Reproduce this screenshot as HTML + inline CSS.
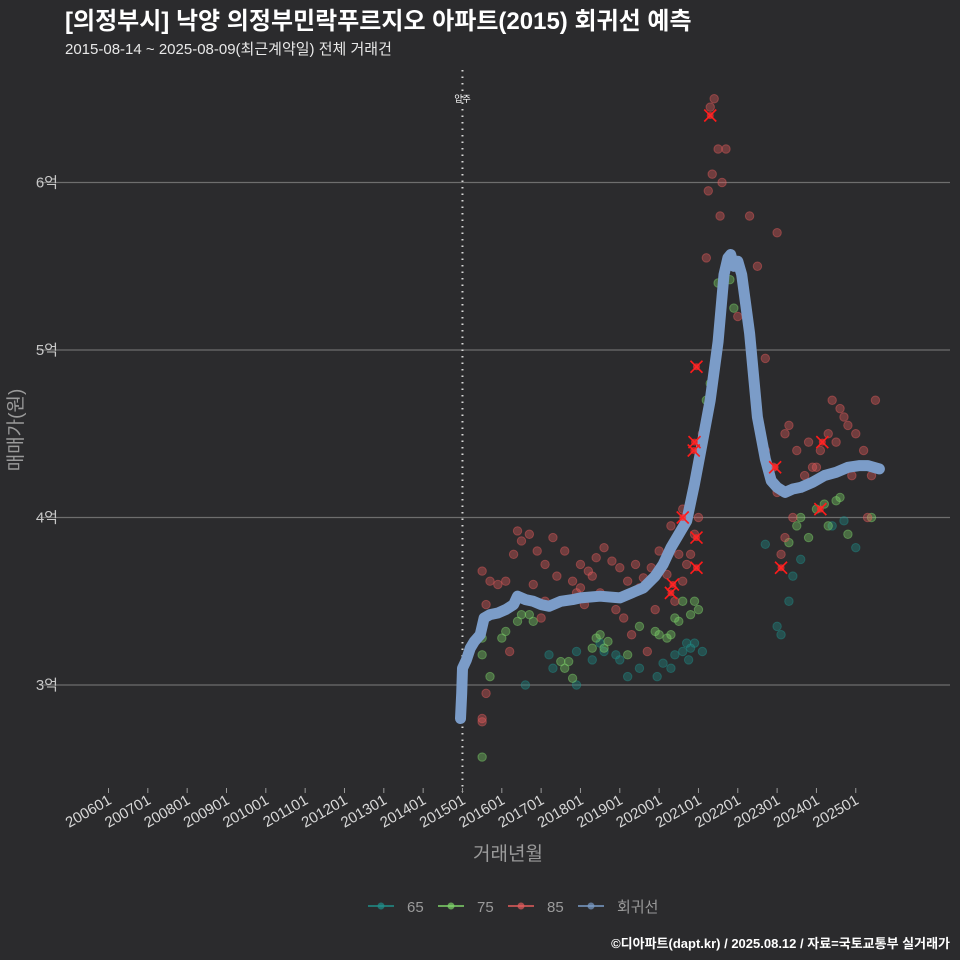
<!DOCTYPE html>
<html><head><meta charset="utf-8">
<style>
body{margin:0;background:#2b2b2d;}
svg{display:block;font-family:"Liberation Sans","Noto Sans CJK KR",sans-serif;}
</style></head>
<body>
<svg id="chart" width="960" height="960" viewBox="0 0 960 960">
<rect x="0" y="0" width="960" height="960" fill="#2b2b2d"/>
<text x="65" y="29" fill="#ffffff" font-size="24" font-weight="bold">[의정부시] 낙양 의정부민락푸르지오 아파트(2015) 회귀선 예측</text>
<text x="65" y="54" fill="#e8e8e8" font-size="15">2015-08-14 ~ 2025-08-09(최근계약일) 전체 거래건</text>
<g id="grid"></g>
<g id="yaxis"></g>
<g id="xaxis"></g>
<g id="points"></g>
<g id="line"></g>
<g id="marks"></g>
<text x="22" y="430" fill="#9a9a9a" font-size="19" text-anchor="middle" transform="rotate(-90 22 430)">매매가(원)</text>
<text x="508" y="860" fill="#9a9a9a" font-size="19" text-anchor="middle">거래년월</text>
<g id="legend"></g>
<text x="950" y="948" fill="#ffffff" font-size="13" font-weight="bold" text-anchor="end">©디아파트(dapt.kr) / 2025.08.12 / 자료=국토교통부 실거래가</text>
</svg>
<script>
const yTicks=[3,4,5,6];
const yTickLabels=["3억","4억","5억","6억"];
const xTickYears=[2006,2007,2008,2009,2010,2011,2012,2013,2014,2015,2016,2017,2018,2019,2020,2021,2022,2023,2024,2025];
const xTickLabels=["200601","200701","200801","200901","201001","201101","201201","201301","201401","201501","201601","201701","201801","201901","202001","202101","202201","202301","202401","202501"];
const moveInYear=2015.0;
const lineX=[2014.95,2014.98,2015.0,2015.1,2015.2,2015.3,2015.45,2015.55,2015.7,2015.9,2016.1,2016.3,2016.4,2016.6,2016.8,2017.0,2017.2,2017.5,2017.8,2018.0,2018.5,2019.0,2019.3,2019.6,2019.9,2020.1,2020.3,2020.5,2020.7,2020.9,2021.1,2021.3,2021.5,2021.65,2021.75,2021.82,2021.9,2022.0,2022.1,2022.3,2022.5,2022.7,2022.85,2023.0,2023.2,2023.4,2023.6,2023.9,2024.2,2024.5,2024.8,2025.1,2025.3,2025.6];
const lineY=[2.8,2.95,3.1,3.15,3.22,3.26,3.3,3.4,3.42,3.43,3.45,3.48,3.53,3.51,3.5,3.48,3.47,3.5,3.51,3.52,3.53,3.52,3.55,3.58,3.65,3.72,3.82,3.9,3.98,4.2,4.45,4.7,5.05,5.45,5.55,5.57,5.5,5.53,5.45,5.1,4.6,4.35,4.22,4.18,4.15,4.17,4.18,4.21,4.25,4.27,4.3,4.31,4.31,4.29];
const s65=[[2017.3,3.1],[2017.2,3.18],[2017.9,3.0],[2018.3,3.15],[2018.9,3.18],[2018.6,3.2],[2019.0,3.15],[2019.2,3.05],[2019.5,3.1],[2020.4,3.18],[2020.6,3.2],[2020.7,3.25],[2020.8,3.22],[2020.9,3.25],[2019.95,3.05],[2020.3,3.1],[2016.6,3.0],[2017.9,3.2],[2018.5,3.25],[2023.0,3.35],[2023.1,3.3],[2022.7,3.84],[2023.4,3.65],[2023.3,3.5],[2023.6,3.75],[2024.4,3.95],[2025.0,3.82],[2024.7,3.98],[2020.1,3.13],[2021.1,3.2],[2020.75,3.15]];
const s75=[[2015.5,2.57],[2015.5,3.18],[2015.7,3.05],[2015.5,3.28],[2016.0,3.28],[2016.1,3.32],[2016.4,3.38],[2016.5,3.42],[2016.7,3.42],[2016.8,3.38],[2017.5,3.14],[2017.7,3.14],[2017.8,3.04],[2017.6,3.1],[2018.3,3.22],[2018.4,3.28],[2018.5,3.3],[2018.7,3.26],[2018.6,3.22],[2019.2,3.18],[2019.5,3.35],[2019.9,3.32],[2020.0,3.3],[2020.3,3.3],[2020.4,3.4],[2020.5,3.38],[2020.8,3.42],[2020.9,3.5],[2021.0,3.45],[2020.2,3.28],[2020.6,3.5],[2021.5,5.4],[2021.8,5.42],[2021.9,5.25],[2021.2,4.7],[2021.3,4.8],[2023.5,3.95],[2023.6,4.0],[2023.8,3.88],[2024.0,4.05],[2024.2,4.08],[2024.5,4.1],[2024.6,4.12],[2024.3,3.95],[2025.4,4.0],[2023.3,3.85],[2024.8,3.9]];
const s85=[[2015.5,2.8],[2015.5,2.78],[2015.6,2.95],[2015.6,3.48],[2015.7,3.62],[2015.5,3.68],[2015.9,3.6],[2016.1,3.62],[2016.3,3.78],[2016.4,3.92],[2016.5,3.86],[2016.7,3.9],[2016.9,3.8],[2017.1,3.72],[2017.3,3.88],[2017.6,3.8],[2017.8,3.62],[2018.0,3.72],[2018.2,3.68],[2018.3,3.65],[2018.4,3.76],[2018.6,3.82],[2018.8,3.74],[2019.0,3.7],[2019.2,3.62],[2019.4,3.72],[2019.6,3.64],[2019.8,3.7],[2020.0,3.8],[2020.1,3.72],[2020.2,3.66],[2020.4,3.86],[2020.5,3.78],[2020.6,3.62],[2020.7,3.72],[2020.8,3.78],[2020.9,3.9],[2021.0,4.0],[2021.1,4.5],[2021.2,5.55],[2021.25,5.95],[2021.35,6.05],[2021.3,6.45],[2021.4,6.5],[2021.5,6.2],[2021.6,6.0],[2021.7,6.2],[2021.55,5.8],[2022.0,5.2],[2022.3,5.8],[2022.5,5.5],[2022.7,4.95],[2023.0,5.7],[2017.1,3.5],[2017.9,3.55],[2018.1,3.48],[2019.1,3.4],[2019.3,3.3],[2019.7,3.2],[2020.4,3.5],[2016.2,3.2],[2017.0,3.4],[2018.9,3.45],[2022.7,4.4],[2022.9,4.3],[2023.0,4.15],[2023.2,4.5],[2023.3,4.55],[2023.5,4.4],[2023.7,4.25],[2023.9,4.3],[2024.1,4.4],[2024.3,4.5],[2024.4,4.7],[2024.5,4.45],[2024.7,4.6],[2024.8,4.55],[2025.0,4.5],[2025.2,4.4],[2025.4,4.25],[2025.5,4.7],[2024.9,4.25],[2023.8,4.45],[2024.0,4.3],[2023.4,4.0],[2023.1,3.78],[2023.2,3.88],[2024.6,4.65],[2025.3,4.0],[2018.5,3.55],[2019.5,3.58],[2016.8,3.6],[2017.4,3.65],[2018.0,3.58],[2019.9,3.45],[2020.3,3.95],[2020.6,4.05]];
const marks=[[2021.3,6.4],[2020.95,4.9],[2020.9,4.45],[2020.88,4.4],[2020.6,4.0],[2020.35,3.6],[2020.3,3.55],[2020.95,3.88],[2020.95,3.7],[2022.95,4.3],[2023.1,3.7],[2024.1,4.05],[2024.15,4.45]];

const NS="http://www.w3.org/2000/svg";
function xs(y){return 108.5+(y-2006)*39.33;}
function ys(v){return 685-(v-3)*167.5;}
function mk(tag,attrs,parent){const e=document.createElementNS(NS,tag);for(const k in attrs)e.setAttribute(k,attrs[k]);parent.appendChild(e);return e;}
const grid=document.getElementById('grid'),yax=document.getElementById('yaxis'),xax=document.getElementById('xaxis');
yTicks.forEach((t,i)=>{
  const l=mk('line',{x1:40,x2:950,y1:ys(t),y2:ys(t),stroke:'#6e6e6e','stroke-width':1.2},grid);
  
  
  const tx=mk('text',{x:58,y:ys(t)+5,fill:'#c8c8c8','font-size':15,'text-anchor':'end'},yax);
  tx.textContent=yTickLabels[i];
  
  
});
xTickYears.forEach((t,i)=>{
  const x=xs(t);
  const tk=mk('line',{x1:x,x2:x,y1:788,y2:793,stroke:'#9a9a9a','stroke-width':1},xax);
  
  
  const tx=mk('text',{x:x+4,y:803,fill:'#d8d8d8','font-size':15,'text-anchor':'end',transform:`rotate(-30 ${x+4} 803)`},xax);
  tx.textContent=xTickLabels[i];
  
  
});
const vx=xs(moveInYear);
const vl=mk('line',{x1:vx,x2:vx,y1:70,y2:792,stroke:'#d8d8d8','stroke-width':2,'stroke-dasharray':'1.5 5'},grid);


const vt=mk('text',{x:vx,y:102,fill:'#ffffff','font-size':9,'text-anchor':'middle'},grid);
vt.textContent='입주';



const pts=document.getElementById('points');
function drawSeries(arr,col,name){arr.forEach(p=>{
  const c=mk('circle',{cx:xs(p[0]),cy:ys(p[1]),r:4.2,fill:col,'fill-opacity':0.38,stroke:col,'stroke-opacity':0.45},pts);
  
  
});}
drawSeries(s65,'#1f8f8a','point-65');
drawSeries(s75,'#7fd46a','point-75');
drawSeries(s85,'#e35c5c','point-85');

const ln=document.getElementById('line');
let d='';lineX.forEach((x,i)=>{d+=(i?'L':'M')+xs(x).toFixed(1)+','+ys(lineY[i]).toFixed(1);});
const pl=mk('path',{d:d,fill:'none',stroke:'#7b9cc8','stroke-width':11,'stroke-linejoin':'round','stroke-linecap':'round'},ln);



const mg=document.getElementById('marks');
marks.forEach(p=>{const x=xs(p[0]),y=ys(p[1]);
  const g=mk('path',{d:`M${x-6},${y-6}L${x+6},${y+6}M${x-6},${y+6}L${x+6},${y-6}`,stroke:'#ff1a1a','stroke-width':1.6},mg);
  
  
  const c=mk('circle',{cx:x,cy:y,r:3.5,fill:'#ff2a2a','fill-opacity':0.7},mg);
  
  
});

const lg=document.getElementById('legend');
const legItems=[['65','#1f8f8a',368],['75','#7fd46a',438],['85','#e35c5c',508],['회귀선','#7b9cc8',578]];
legItems.forEach(it=>{
  const g=mk('g',{},lg);
  
  
  mk('line',{x1:it[2],x2:it[2]+26,y1:906,y2:906,stroke:it[1],'stroke-width':1.5},g);
  mk('circle',{cx:it[2]+13,cy:906,r:3.5,fill:it[1],'fill-opacity':0.7},g);
  const t=mk('text',{x:it[2]+39,y:912,fill:'#9a9a9a','font-size':15},g);
  t.textContent=it[0];
});
</script>
</body></html>
